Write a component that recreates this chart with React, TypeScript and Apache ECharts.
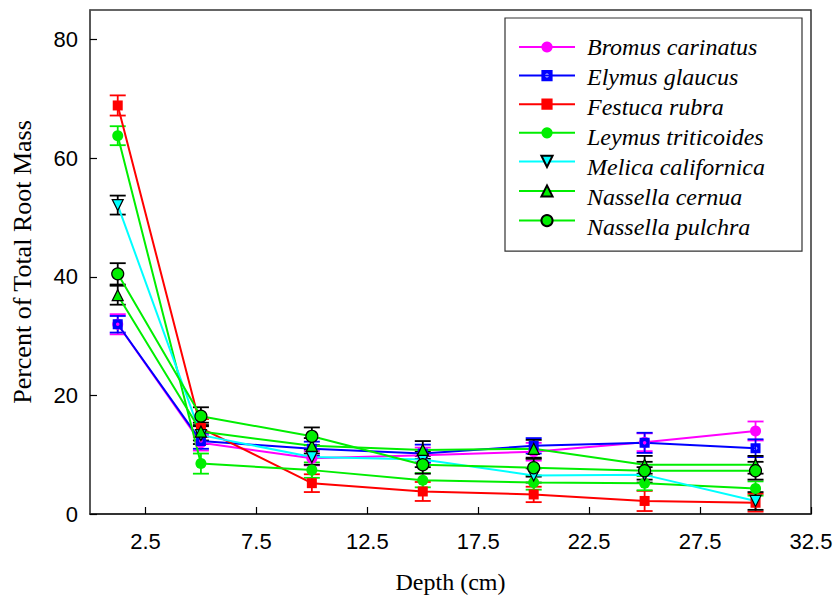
import React, { useEffect, useRef } from "react";
import * as echarts from "echarts";

const depths = [1.25, 5, 10, 15, 20, 25, 30];
const speciesNames = [
  "Bromus carinatus",
  "Elymus glaucus",
  "Festuca rubra",
  "Leymus triticoides",
  "Melica californica",
  "Nassella cernua",
  "Nassella pulchra",
];
const bromus = [32.0, 12.0, 9.4, 9.9, 10.5, 12.1, 14.0];
const bromusErr = [1.7, 1.3, 1.2, 1.3, 1.5, 1.5, 1.6];
const elymus = [32.0, 12.3, 11.0, 10.2, 11.5, 12.0, 11.1];
const elymusErr = [1.4, 1.3, 1.2, 1.5, 1.3, 1.7, 1.5];
const festuca = [68.9, 14.5, 5.2, 3.8, 3.3, 2.2, 1.9];
const festucaErr = [1.7, 1.5, 1.5, 1.6, 1.3, 1.7, 1.5];
const leymus = [63.8, 8.5, 7.4, 5.7, 5.3, 5.2, 4.3];
const leymusErr = [1.6, 1.7, 1.3, 1.2, 1.2, 1.2, 1.2];
const melica = [52.1, 13.3, 9.6, 9.2, 6.5, 6.6, 2.2];
const melicaErr = [1.6, 1.5, 1.3, 1.3, 1.2, 1.3, 1.5];
const cernua = [36.9, 13.9, 11.5, 10.8, 11.0, 8.3, 8.3];
const cernuaErr = [1.6, 1.5, 1.3, 1.5, 1.5, 1.5, 1.5];
const pulchra = [40.5, 16.5, 13.1, 8.3, 7.8, 7.3, 7.3];
const pulchraErr = [1.8, 1.5, 1.5, 1.5, 1.5, 1.5, 1.5];

const xTickValues = [2.5, 7.5, 12.5, 17.5, 22.5, 27.5, 32.5];
const yTickValues = [0, 20, 40, 60, 80];

const elymusSymbol =
  "path://M0,0L10,0L10,10L0,10Z M5,3.2A1.8,1.8 0 0,0 5,6.8A1.8,1.8 0 0,0 5,3.2Z";

const seriesDefs = [
  { name: speciesNames[0], vals: bromus, err: bromusErr, color: "#ff00ff", symbol: "circle", size: 11, border: "#ff00ff", errColor: "#ff00ff", bw: 0 },
  { name: speciesNames[1], vals: elymus, err: elymusErr, color: "#0000ff", symbol: elymusSymbol, size: 10, border: "#0000ff", errColor: "#0000ff", bw: 0 },
  { name: speciesNames[2], vals: festuca, err: festucaErr, color: "#ff0000", symbol: "rect", size: 10, border: "#ff0000", errColor: "#ff0000", bw: 0 },
  { name: speciesNames[3], vals: leymus, err: leymusErr, color: "#00ee00", symbol: "circle", size: 11, border: "#00ee00", errColor: "#00ee00", bw: 0 },
  { name: speciesNames[4], vals: melica, err: melicaErr, color: "#00ffff", symbol: "triangle", size: 11, border: "#000000", errColor: "#000000", bw: 1.2, rotate: 180 },
  { name: speciesNames[5], vals: cernua, err: cernuaErr, color: "#00ee00", symbol: "triangle", size: 11, border: "#000000", errColor: "#000000", bw: 1.2 },
  { name: speciesNames[6], vals: pulchra, err: pulchraErr, color: "#00ee00", symbol: "circle", size: 12, border: "#000000", errColor: "#000000", bw: 1.2 },
];

const SERIF = "Liberation Serif";

export default function App() {
  const ref = useRef<HTMLDivElement>(null);
  useEffect(() => {
    document.body.style.margin = "0";
    const chart = echarts.init(ref.current!, null, { renderer: "svg" });
    const series: any[] = [];
    seriesDefs.forEach((s) => {
      series.push({
        type: "custom",
        name: s.name + " err",
        z: 2,
        silent: true,
        data: depths.map((d, j) => [d, s.vals[j] - s.err[j], s.vals[j] + s.err[j]]),
        renderItem: (params: any, api: any) => {
          const x = api.value(0);
          const lo = api.coord([x, api.value(1)]);
          const hi = api.coord([x, api.value(2)]);
          const hw = 8;
          const st = { stroke: s.errColor, lineWidth: 1.8 };
          return {
            type: "group",
            children: [
              { type: "line", shape: { x1: lo[0], y1: lo[1], x2: hi[0], y2: hi[1] }, style: st },
              { type: "line", shape: { x1: lo[0] - hw, y1: lo[1], x2: lo[0] + hw, y2: lo[1] }, style: st },
              { type: "line", shape: { x1: hi[0] - hw, y1: hi[1], x2: hi[0] + hw, y2: hi[1] }, style: st },
            ],
          };
        },
      });
    });
    seriesDefs.forEach((s: any) => {
      series.push({
        type: "line",
        name: s.name,
        z: 3,
        data: depths.map((d, j) => [d, s.vals[j]]),
        symbol: s.symbol,
        symbolSize: s.size,
        symbolRotate: s.rotate || 0,
        showAllSymbol: true,
        lineStyle: { color: s.color, width: 2 },
        itemStyle: { color: s.color, borderColor: s.border, borderWidth: s.bw },
      });
    });
    const legendTexts = speciesNames.map((n, i) => ({
      type: "text",
      x: 587,
      y: 47 + i * 30,
      z: 100,
      style: {
        text: n,
        font: "italic 24px " + SERIF,
        fill: "#000",
        verticalAlign: "middle",
        align: "left",
      },
    }));
    chart.setOption({
      animation: false,
      grid: {
        left: 90,
        right: 25,
        top: 10,
        bottom: 85,
        show: true,
        borderColor: "#333",
        borderWidth: 1.5,
        containLabel: false,
        outerBoundsMode: "none",
      },
      graphic: legendTexts,
      legend: {
        data: speciesNames,
        orient: "vertical",
        left: 505,
        top: 18,
        padding: [22, 226, 24, 13],
        itemWidth: 56,
        itemHeight: 14,
        itemGap: 16,
        borderColor: "#333",
        borderWidth: 1.2,
        backgroundColor: "#fff",
        formatter: () => "",
        textStyle: { fontSize: 1 },
      },
      xAxis: {
        type: "value",
        min: 0,
        max: 32.5,
        name: "Depth (cm)",
        nameLocation: "middle",
        nameGap: 56,
        nameTextStyle: { fontFamily: SERIF, fontSize: 24, color: "#000" },
        axisLine: { lineStyle: { color: "#222", width: 1.5 } },
        axisTick: { inside: true, length: 7, customValues: xTickValues, lineStyle: { color: "#000", width: 1.2 } },
        axisLabel: { customValues: xTickValues, fontFamily: "Liberation Sans", fontSize: 22, color: "#000", margin: 16 },
        splitLine: { show: false },
      },
      yAxis: {
        type: "value",
        min: 0,
        max: 85,
        name: "Percent of Total Root Mass",
        nameLocation: "middle",
        nameGap: 55,
        nameTextStyle: { fontFamily: SERIF, fontSize: 26, color: "#000" },
        axisLine: { lineStyle: { color: "#555", width: 1.5 } },
        axisTick: { inside: true, length: 7, customValues: yTickValues, lineStyle: { color: "#000", width: 1.2 } },
        axisLabel: { customValues: yTickValues, fontFamily: "Liberation Sans", fontSize: 22, color: "#000", margin: 12 },
        splitLine: { show: false },
      },
      series,
    });
    return () => chart.dispose();
  }, []);
  return <div ref={ref} style={{ width: 836, height: 599 }} />;
}
